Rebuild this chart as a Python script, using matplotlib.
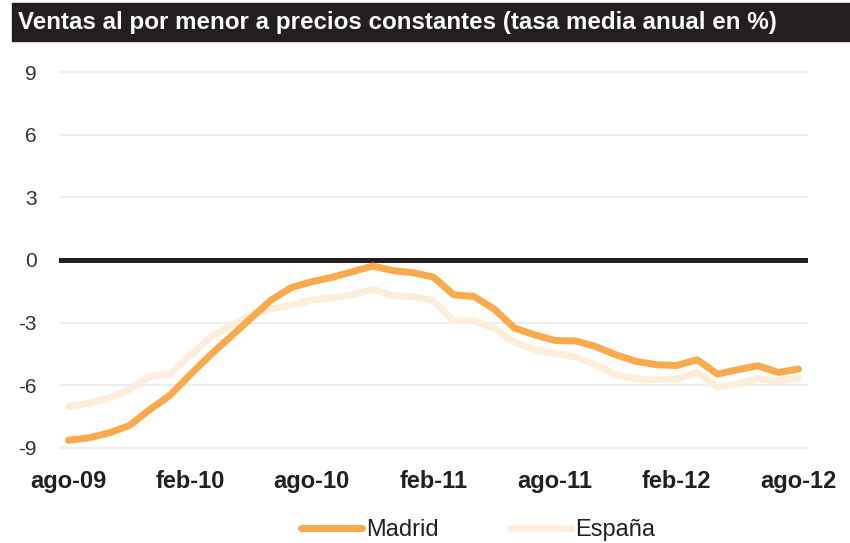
#!/usr/bin/env python3

import numpy as np
import matplotlib.pyplot as plt
from matplotlib.patches import Rectangle

plt.rcParams['font.family'] = ['Liberation Sans', 'DejaVu Sans']

title = "Ventas al por menor a precios constantes (tasa media anual en %)"

# monthly, ago-09 .. ago-12
madrid = [-8.64, -8.53, -8.29, -7.94, -7.18, -6.49, -5.50, -4.55, -3.67, -2.79,
          -1.91, -1.32, -1.04, -0.83, -0.56, -0.29, -0.51, -0.61, -0.82, -1.67,
          -1.75, -2.36, -3.27, -3.59, -3.86, -3.88, -4.15, -4.55, -4.86, -5.02,
          -5.06, -4.78, -5.47, -5.26, -5.07, -5.39, -5.23]
espana = [-7.02, -6.86, -6.62, -6.22, -5.58, -5.45, -4.59, -3.70, -3.16, -2.63,
          -2.36, -2.15, -1.91, -1.83, -1.67, -1.40, -1.72, -1.75, -1.95, -2.92,
          -2.92, -3.27, -3.96, -4.31, -4.47, -4.66, -5.02, -5.50, -5.71, -5.74,
          -5.71, -5.39, -6.09, -5.95, -5.71, -5.79, -5.66]
tick_labels = ["ago-09", "feb-10", "ago-10", "feb-11", "ago-11", "feb-12", "ago-12"]
yticks = [-9, -6, -3, 0, 3, 6, 9]

x = np.arange(len(madrid))

fig = plt.figure(figsize=(8.5, 5.43), dpi=100)
ax = fig.add_axes([0.0694, 0.1678, 0.8812, 0.7068])

for y in yticks:
    if y != 0:
        ax.axhline(y, color="#eeeeee", lw=1.6, zorder=0)
ax.axhline(0, color="#231f20", lw=3.6, zorder=1)

ax.plot(x, espana, color="#fdeedc", lw=5, solid_capstyle="round", label="España", zorder=2)
ax.plot(x, madrid, color="#f9aa4c", lw=5, solid_capstyle="round", label="Madrid", zorder=3)

ax.set_xlim(-0.47, len(madrid) - 1 + 0.47)
ax.set_ylim(-9.2, 9.2)
ax.set_yticks(yticks)
ax.set_yticklabels([str(v) for v in yticks], fontsize=15, color="#333333")
ax.set_xticks(np.arange(0, len(madrid), 6))
ax.set_xticklabels(tick_labels, fontsize=17, fontweight="bold", color="#231f20")
ax.tick_params(axis="y", length=0, pad=16)
ax.tick_params(axis="x", length=0, pad=13)
for s in ax.spines.values():
    s.set_visible(False)

h, l = ax.get_legend_handles_labels()
fig.legend([h[1], h[0]], [l[1], l[0]], loc="center", ncol=2,
           bbox_to_anchor=(478 / 850, 1 - 530 / 543), frameon=False,
           fontsize=17, handlelength=2.6, handletextpad=0.17, columnspacing=3.0,
           labelcolor="#231f20")

fig.patches.append(Rectangle((12 / 850, 1 - 41 / 543), 1 - 12 / 850, 38 / 543,
                             transform=fig.transFigure, color="#231f20", zorder=0))
fig.text(18 / 850, 1 - 22 / 543, title, color="white", fontsize=17.4, fontweight="bold",
         va="center", ha="left")

fig.savefig("out.png", dpi=100)
